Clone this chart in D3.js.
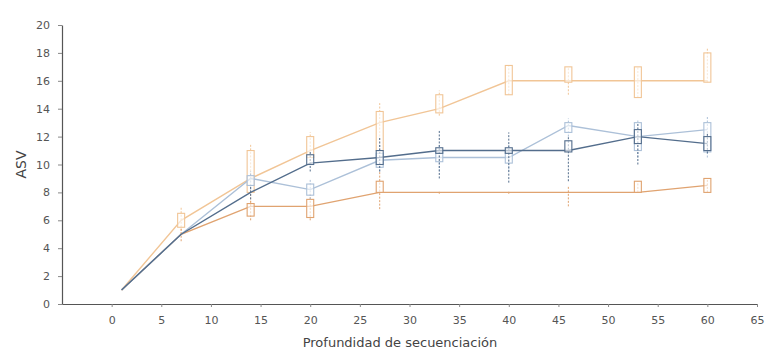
<!DOCTYPE html>
<html>
<head>
<meta charset="utf-8">
<script src="https://cdn.jsdelivr.net/npm/d3@7"></script>
<style>
  html, body { margin: 0; padding: 0; background: #fff; }
  svg { display: block; }
</style>
</head>
<body>
<svg id="chart" width="768" height="351"></svg>
<script>
// Sequencing depth sampled for every series
const depths = [1, 7, 14, 20, 27, 33, 40, 46, 53, 60];

// Per-series medians
const peachMedian     = [1, 6, 9, 11, 13, 14, 16, 16, 16, 16];
const darkBlueMedian  = [1, 5, 8, 10.1, 10.5, 11, 11, 11, 12, 11.5];
const lightBlueMedian = [1, 5, 9, 8.2, 10.3, 10.5, 10.5, 12.8, 12, 12.5];
const orangeMedian    = [1, 5, 7, 7, 8, 8, 8, 8, 8, 8.5];

// Quartiles (q1, q3) and whiskers (min, max)
const peachQ1  = [1, 5.5, 8, 10.5, 11, 13.7, 15, 15.9, 14.8, 15.9];
const peachQ3  = [1, 6.5, 11, 12, 13.8, 15, 17.1, 17, 17, 18];
const peachMin = [1, 5, 7, 10, 10.5, 13.5, 15, 15, 14.8, 15.9];
const peachMax = [1, 7, 11.5, 12.3, 14.4, 15.3, 17.1, 17, 17, 18.3];

const darkBlueQ1  = [1, 5, 7.9, 10, 10, 10.8, 10.8, 10.9, 11.5, 11];
const darkBlueQ3  = [1, 5, 8.1, 10.7, 11, 11.2, 11.2, 11.7, 12.5, 12];
const darkBlueMin = [1, 5, 7.5, 9.5, 9.5, 9, 8.7, 8.8, 10, 10.8];
const darkBlueMax = [1, 5, 8.5, 11, 12, 12.5, 12.3, 12, 13, 12.3];

const lightBlueQ1  = [1, 5, 8.5, 7.8, 9.8, 10.2, 10.1, 12.3, 11, 10.9];
const lightBlueQ3  = [1, 5, 9.2, 8.6, 10.8, 10.9, 10.9, 13, 13, 13];
const lightBlueMin = [1, 5, 8.2, 7.5, 9.5, 9.5, 9.5, 12, 10.5, 10.5];
const lightBlueMax = [1, 5, 9.5, 9, 11.5, 11.5, 11.5, 13.3, 13.2, 13.5];

const orangeQ1  = [1, 5, 6.3, 6.2, 8, 8, 8, 8, 8, 8];
const orangeQ3  = [1, 5, 7.2, 7.5, 8.8, 8.1, 8.1, 8.1, 8.8, 9];
const orangeMin = [1, 4.5, 6, 6, 6.8, 7.9, 7.9, 7, 8, 8];
const orangeMax = [1, 5.5, 7.5, 8, 9.5, 8.1, 8.1, 8.5, 8.8, 9];

const xTicks = [0, 5, 10, 15, 20, 25, 30, 35, 40, 45, 50, 55, 60, 65];
const yTicks = [0, 2, 4, 6, 8, 10, 12, 14, 16, 18, 20];

const series = [
  { name: "peach",     color: "#f1c596", med: peachMedian,     q1: peachQ1,     q3: peachQ3,     lo: peachMin,     hi: peachMax },
  { name: "orange",    color: "#e0a370", med: orangeMedian,    q1: orangeQ1,    q3: orangeQ3,    lo: orangeMin,    hi: orangeMax },
  { name: "lightBlue", color: "#acc0d8", med: lightBlueMedian, q1: lightBlueQ1, q3: lightBlueQ3, lo: lightBlueMin, hi: lightBlueMax },
  { name: "darkBlue",  color: "#536d8c", med: darkBlueMedian,  q1: darkBlueQ1,  q3: darkBlueQ3,  lo: darkBlueMin,  hi: darkBlueMax }
];

const svg = d3.select("#chart");
const font = "'DejaVu Sans', sans-serif";
const axisColor = "#555";

const x = d3.scaleLinear().domain([-5, 65]).range([62, 757]);
const y = d3.scaleLinear().domain([0, 20]).range([304, 25]);

// Axes
const xAxis = svg.append("g")
  .attr("transform", `translate(0,${y(0)})`)
  .call(d3.axisBottom(x).tickValues(xTicks).tickSize(3).tickSizeOuter(0).tickPadding(9));
const yAxis = svg.append("g")
  .attr("transform", `translate(${x(-5)},0)`)
  .call(d3.axisLeft(y).tickValues(yTicks).tickSize(4).tickSizeOuter(0).tickPadding(8));

[xAxis, yAxis].forEach(g => {
  g.select(".domain").attr("stroke", axisColor).attr("stroke-width", 1.2);
  g.selectAll(".tick line").attr("stroke", "#888");
  g.selectAll(".tick text")
    .attr("fill", "#555")
    .style("font-family", font)
    .style("font-size", "11px");
});

// Axis titles
svg.append("text")
  .attr("x", 400).attr("y", 347)
  .attr("text-anchor", "middle")
  .attr("fill", "#444")
  .style("font-family", font)
  .style("font-size", "13px")
  .text("Profundidad de secuenciación");

svg.append("text")
  .attr("transform", `translate(26,${y(10)}) rotate(-90)`)
  .attr("text-anchor", "middle")
  .attr("fill", "#444")
  .style("font-family", font)
  .style("font-size", "14px")
  .text("ASV");

const plot = svg.append("g");
const line = d3.line().x((d, i) => x(depths[i])).y(d => y(d));
const boxW = 7;

series.forEach(s => {
  const g = plot.append("g").attr("class", s.name);

  // Median trace
  g.append("path")
    .datum(s.med)
    .attr("d", line)
    .attr("fill", "none")
    .attr("stroke", s.color)
    .attr("stroke-width", 1.4);

  const idx = d3.range(depths.length).slice(1);

  // Whiskers
  g.selectAll("line.whisker")
    .data(idx)
    .join("line")
    .attr("class", "whisker")
    .attr("x1", i => x(depths[i])).attr("x2", i => x(depths[i]))
    .attr("y1", i => y(s.lo[i])).attr("y2", i => y(s.hi[i]))
    .attr("stroke", s.color)
    .attr("stroke-width", 1)
    .attr("stroke-dasharray", "2,1.5");

  // Interquartile boxes
  g.selectAll("rect.box")
    .data(idx.filter(i => s.q3[i] - s.q1[i] > 0.3))
    .join("rect")
    .attr("class", "box")
    .attr("x", i => x(depths[i]) - boxW / 2)
    .attr("width", boxW)
    .attr("y", i => y(s.q3[i]))
    .attr("height", i => y(s.q1[i]) - y(s.q3[i]))
    .attr("fill", "#fff")
    .attr("fill-opacity", 0.6)
    .attr("stroke", s.color)
    .attr("stroke-width", 1.1);
});
</script>
</body>
</html>
